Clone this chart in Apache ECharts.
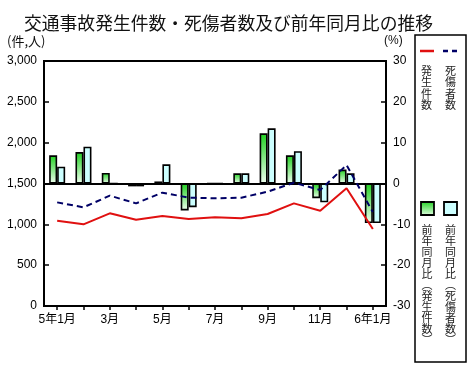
<!DOCTYPE html>
<html>
<head>
<meta charset="utf-8">
<script src="https://cdn.jsdelivr.net/npm/echarts@6/dist/echarts.min.js"></script>
<style>
html,body{margin:0;padding:0;background:#fff;}
#c{width:474px;height:366px;}
</style>
</head>
<body>
<div id="c"></div>
<script>
const months = ['5年1月','2月','3月','4月','5月','6月','7月','8月','9月','10月','11月','12月','6年1月'];
const accidents = [1044, 1000, 1135, 1057, 1102, 1065, 1086, 1074, 1126, 1257, 1167, 1441, 943];
const casualties = [1269, 1208, 1351, 1257, 1388, 1327, 1319, 1326, 1400, 1510, 1420, 1726, 1150];
const accYoY = [6.9, 7.7, 2.6, -0.7, 0.5, -6.6, 0, 2.5, 12.3, 6.9, -3.6, 3.4, -9.7];
const casYoY = [4.1, 9.0, 0, -0.7, 4.7, -5.8, 0, 2.5, 13.5, 7.9, -4.6, 2.5, -9.7];
const leftTicks = {min: 0, max: 3000, interval: 500};
const rightTicks = {min: -30, max: 30, interval: 10};

const FONT = '"Liberation Sans", "Noto Sans CJK JP", sans-serif';
const JFONT = '"Noto Sans CJK JP", sans-serif';

const chart = echarts.init(document.getElementById('c'), null, {renderer: 'canvas'});
const greenGrad = new echarts.graphic.LinearGradient(0, 0, 0, 1, [
  {offset: 0, color: '#1fcf1f'},
  {offset: 1, color: '#f0fff0'}
]);
const greenGradLegend = new echarts.graphic.LinearGradient(0, 0, 0, 1, [
  {offset: 0, color: '#1fcf1f'},
  {offset: 1, color: '#e8ffe8'}
]);

chart.setOption({
  animation: false,
  backgroundColor: '#fff',
  title: {
    text: '交通事故発生件数・死傷者数及び前年同月比の推移',
    left: 19, top: 9,
    textStyle: {fontFamily: JFONT, fontSize: 17.8, fontWeight: 'normal', color: '#111'}
  },
  grid: {left: 44, right: 88, top: 61, bottom: 60, show: true, borderColor: '#000', borderWidth: 2, backgroundColor: 'transparent'},
  xAxis: {
    type: 'category', data: months, boundaryGap: true,
    axisLine: {lineStyle: {color: '#000', width: 2}},
    axisTick: {show: true, alignWithLabel: true, interval: 0, length: 4, lineStyle: {color: '#000', width: 1.5}},
    axisLabel: {interval: 1, color: '#000', fontSize: 12, fontFamily: FONT, margin: 8}
  },
  yAxis: [{
    type: 'value', min: leftTicks.min, max: leftTicks.max, interval: leftTicks.interval,
    axisLine: {show: true, lineStyle: {color: '#000', width: 2}},
    axisTick: {show: true, inside: true, length: 5, lineStyle: {color: '#000', width: 1.5}},
    splitLine: {show: false},
    axisLabel: {color: '#000', fontSize: 12, fontFamily: FONT, margin: 7,
      formatter: v => v.toLocaleString('en-US')}
  }, {
    type: 'value', min: rightTicks.min, max: rightTicks.max, interval: rightTicks.interval,
    position: 'right',
    axisLine: {show: true, onZero: false, lineStyle: {color: '#000', width: 2}},
    axisTick: {show: true, inside: true, length: 5, lineStyle: {color: '#000', width: 1.5}},
    splitLine: {show: false},
    axisLabel: {color: '#000', fontSize: 12, fontFamily: FONT, margin: 7}
  }],
  series: [{
    name: '前年同月比（発生件数）', type: 'bar', yAxisIndex: 1, data: accYoY,
    barWidth: 8, barGap: '0%',
    itemStyle: {color: greenGrad, borderColor: '#000', borderWidth: 1.6},
    markLine: {silent: true, symbol: 'none', label: {show: false},
      lineStyle: {color: '#000', width: 2, type: 'solid'}, data: [{yAxis: 0}]}
  }, {
    name: '前年同月比（死傷者数）', type: 'bar', yAxisIndex: 1, data: casYoY,
    barWidth: 8, barGap: '0%',
    itemStyle: {color: '#ccffff', borderColor: '#000', borderWidth: 1.6}
  }, {
    name: '発生件数', type: 'line', yAxisIndex: 0, data: accidents, z: 5,
    symbol: 'none', lineStyle: {color: '#e01010', width: 2}
  }, {
    name: '死傷者数', type: 'line', yAxisIndex: 0, data: casualties, z: 5,
    symbol: 'none', lineStyle: {color: '#000066', width: 2, type: [6, 4]}
  }],
  graphic: [
    {type: 'text', left: 7, top: 35, style: {text: '(件,人)', font: '13px ' + JFONT, fill: '#111'}},
    {type: 'text', left: 384, top: 35, style: {text: '(%)', font: '12px ' + FONT, fill: '#111'}},
    {type: 'rect', shape: {x: 415, y: 35, width: 51, height: 327}, style: {fill: '#fff', stroke: '#000', lineWidth: 1.5}},
    {type: 'line', shape: {x1: 420, y1: 51, x2: 434, y2: 51}, style: {stroke: '#e01010', lineWidth: 2.5}},
    {type: 'line', shape: {x1: 443, y1: 51, x2: 460, y2: 51}, style: {stroke: '#000066', lineWidth: 2.5, lineDash: [5, 4]}},
    {type: 'text', x: 426.5, y: 65, style: {text: '発\n生\n件\n数', font: '11px ' + JFONT, lineHeight: 11.5, align: 'center', fill: '#222'}},
    {type: 'text', x: 450.5, y: 65, style: {text: '死\n傷\n者\n数', font: '11px ' + JFONT, lineHeight: 11.5, align: 'center', fill: '#222'}},
    {type: 'rect', shape: {x: 421, y: 202, width: 13, height: 13}, style: {fill: greenGradLegend, stroke: '#000', lineWidth: 1.8}},
    {type: 'rect', shape: {x: 444, y: 202, width: 13, height: 13}, style: {fill: '#ccffff', stroke: '#000', lineWidth: 1.8}},
    {type: 'text', x: 427, y: 224, style: {text: '前\n年\n同\n月\n比\n︵\n発\n生\n件\n数\n︶', font: '11px ' + JFONT, lineHeight: 11, align: 'center', fill: '#222'}},
    {type: 'text', x: 450.5, y: 224, style: {text: '前\n年\n同\n月\n比\n︵\n死\n傷\n者\n数\n︶', font: '11px ' + JFONT, lineHeight: 11, align: 'center', fill: '#222'}}
  ]
});
</script>
</body>
</html>
